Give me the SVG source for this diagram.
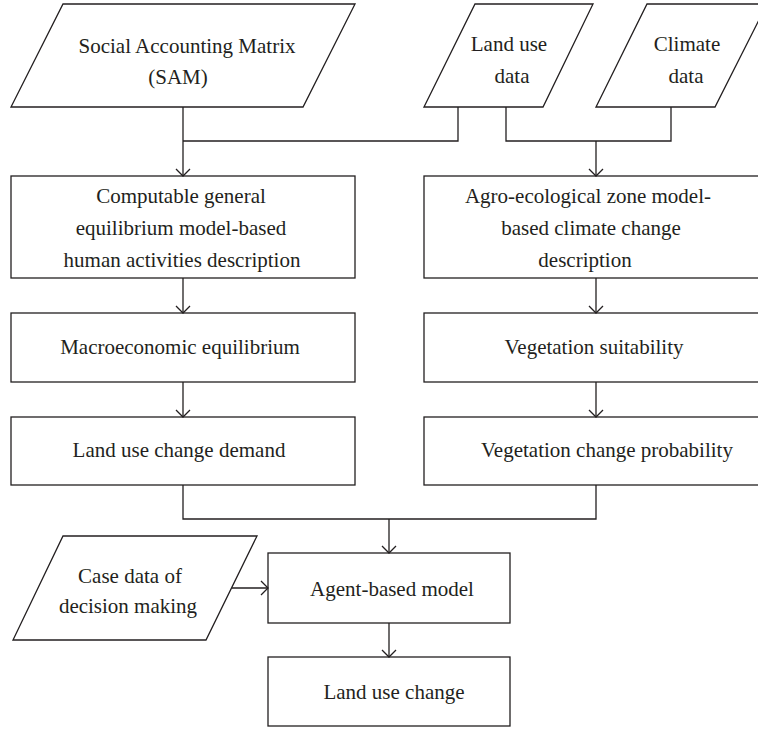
<svg xmlns="http://www.w3.org/2000/svg" width="758" height="729" viewBox="0 0 758 729">
<style>
.s{fill:#fff;stroke:#231f20;stroke-width:1.3}
.c{fill:none;stroke:#231f20;stroke-width:1.3}
text{font-family:"Liberation Serif","Times New Roman",serif;font-size:21px;fill:#231f20;text-anchor:middle}
</style>
<defs>
<marker id="a" markerUnits="userSpaceOnUse" markerWidth="20" markerHeight="20" refX="0" refY="0" viewBox="-10 -10 20 20" orient="auto" overflow="visible">
<path d="M-7,-7 L0,0 L-7,7" fill="none" stroke="#231f20" stroke-width="1.3"/>
</marker>
</defs>
<rect width="758" height="729" fill="#fff"/>
<g id="sam"><polygon class="s" points="63,4 355,4 303,107 11,107"/><text x="187" y="53">Social Accounting Matrix</text><text x="178" y="84">(SAM)</text></g>
<g id="landuse"><polygon class="s" points="475,4 593,4 543,107 424,107"/><text x="509" y="51">Land use</text><text x="512" y="83">data</text></g>
<g id="climate"><polygon class="s" points="647,4 767,4 715,107 596,107"/><text x="687" y="51">Climate</text><text x="686" y="83">data</text></g>
<g id="cge"><rect class="s" x="11" y="176" width="344" height="102"/><text x="181" y="203">Computable general</text><text x="181" y="235">equilibrium model-based</text><text x="182" y="267">human activities description</text></g>
<g id="aez"><rect class="s" x="424" y="176" width="344" height="102"/><text x="588" y="203">Agro-ecological zone model-</text><text x="591" y="235">based climate change</text><text x="585" y="267">description</text></g>
<g id="macro"><rect class="s" x="11" y="313" width="344" height="69"/><text x="180" y="354">Macroeconomic equilibrium</text></g>
<g id="vegsuit"><rect class="s" x="424" y="313" width="344" height="69"/><text x="594" y="354">Vegetation suitability</text></g>
<g id="demand"><rect class="s" x="11" y="417" width="344" height="68"/><text x="179" y="457">Land use change demand</text></g>
<g id="vegprob"><rect class="s" x="424" y="417" width="344" height="68"/><text x="607" y="457">Vegetation change probability</text></g>
<g id="casedata"><polygon class="s" points="63,536 257,536 206,640 13,640"/><text x="130" y="583">Case data of</text><text x="128" y="613">decision making</text></g>
<g id="abm"><rect class="s" x="268" y="553" width="242" height="70"/><text x="392" y="596">Agent-based model</text></g>
<g id="luc"><rect class="s" x="268" y="657" width="242" height="69"/><text x="394" y="699">Land use change</text></g>
<g id="connectors">
<path class="c" d="M183,107 V176" marker-end="url(#a)"/>
<path class="c" d="M183,141 H458 V107"/>
<path class="c" d="M506,107 V141 H671 V107"/>
<path class="c" d="M596,141 V176" marker-end="url(#a)"/>
<path class="c" d="M183,278 V313" marker-end="url(#a)"/>
<path class="c" d="M596,278 V313" marker-end="url(#a)"/>
<path class="c" d="M183,382 V417" marker-end="url(#a)"/>
<path class="c" d="M596,382 V417" marker-end="url(#a)"/>
<path class="c" d="M183,485 V519 H596 V485"/>
<path class="c" d="M389,519 V553" marker-end="url(#a)"/>
<path class="c" d="M232,588 H268" marker-end="url(#a)"/>
<path class="c" d="M389,623 V657" marker-end="url(#a)"/>
</g>
</svg>
